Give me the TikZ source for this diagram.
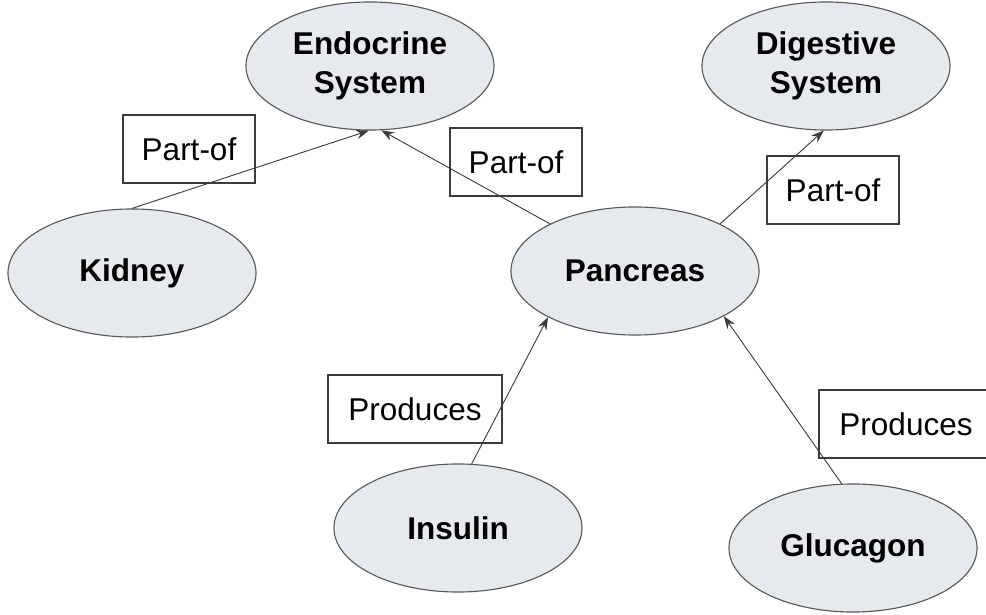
\documentclass[tikz,border=0pt]{standalone}
\usepackage{fontspec}
\setmainfont{Liberation Sans}
\usetikzlibrary{shapes.geometric, arrows.meta}
\definecolor{conceptfill}{RGB}{230,233,237}
\definecolor{edgegray}{RGB}{60,60,60}
\tikzstyle{concept} = [ellipse, draw=edgegray!85, fill=conceptfill, line width=0.8pt, minimum width=6.2cm, minimum height=3.2cm, inner sep=0pt, align=center, font=\fontsize{22.4}{27.8}\selectfont\bfseries]
\tikzstyle{relation} = [rectangle, draw=edgegray, line width=0.8pt, minimum height=1.7cm, inner sep=0pt, font=\fontsize{22.4}{27.8}\selectfont]
\tikzstyle{arrow} = [-{Stealth[length=9pt,width=6.5pt]}, draw=edgegray, line width=0.65pt]

\begin{document}
\begin{tikzpicture}[x=0.025cm, y=-0.025cm]
  \path[use as bounding box, clip] (0,0) rectangle (986,615);
  % concepts
  \node[concept] (endo) at (370,66) {Endocrine\\System};
  \node[concept] (dig) at (826,66) {Digestive\\System};
  \node[concept] (kid) at (132,273) {Kidney};
  \node[concept] (pan) at (635,271) {Pancreas};
  \node[concept] (ins) at (458,528) {Insulin};
  \node[concept] (glu) at (853,548) {Glucagon};
  % relation labels
  \node[relation, minimum width=3.3cm] (kidpart) at (189,149) {Part-of};
  \node[relation, minimum width=3.3cm] (panpart) at (516,162) {Part-of};
  \node[relation, minimum width=3.3cm] (digpart) at (833,190) {Part-of};
  \node[relation, minimum width=4.35cm] (insprod) at (415,409) {Produces};
  \node[relation, minimum width=4.35cm] (gluprod) at (906,424) {Produces};
  % arrows
  \draw[arrow] (kid.north) -- (endo.-91);
  \draw[arrow] (pan.151) -- (endo.-80);
  \draw[arrow] (pan.29) -- (dig.-92);
  \draw[arrow] (ins.78) -- (pan.208);
  \draw[arrow] (glu.100) -- (pan.333);
\end{tikzpicture}
\end{document}
